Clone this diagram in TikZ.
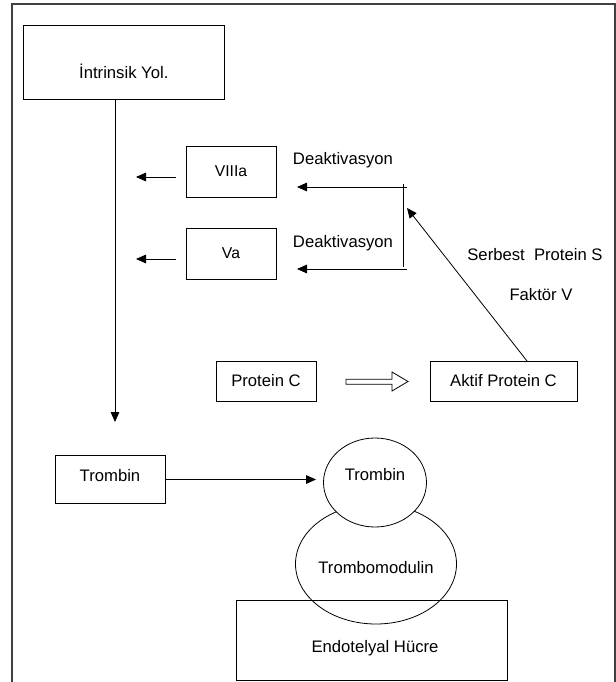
\documentclass[tikz,border=0pt]{standalone}
\usepackage{fontspec}
\setmainfont{Liberation Sans}
\usetikzlibrary{arrows.meta,shapes.geometric,calc}
\begin{document}
\begin{tikzpicture}[x=0.75pt,y=-0.75pt,
  box/.style={draw=black,line width=0.6pt,inner sep=0pt,align=center},
  big/.style={font=\fontsize{12.5}{15}\selectfont},
  mid/.style={font=\fontsize{11.8}{14}\selectfont},
  arr/.style={line width=0.6pt,-{Triangle[length=7.5pt,width=6.5pt]}},
  ln/.style={line width=0.6pt}]
\useasboundingbox (0,0) rectangle (616,682);
% outer frame (open at the bottom)
\draw[line width=1.1pt,draw=black!75] (12,700) -- (12,4) -- (615,4) -- (615,700);

% boxes
\node[box,minimum width=150.3pt,minimum height=56pt] (intr) at (123.8,62.5) {};
\node[big] (intrt) at (123.8,71) {İntrinsik Yol.};
\node[box,mid,minimum width=67.5pt,minimum height=38.25pt] (viii) at (231,171.5) {VIIIa};
\node[box,mid,minimum width=67.5pt,minimum height=38.25pt] (va) at (231,253.5) {Va};
\node[box,big,minimum width=75pt,minimum height=30pt] (pc) at (266,381) {Protein C};
\node[box,big,minimum width=110.25pt,minimum height=30pt] (apc) at (503.5,381) {Aktif Protein C};
\node[box,minimum width=82.5pt,minimum height=36pt] (trb) at (110,479.5) {};
\node[big] (trbt) at (110,476) {Trombin};
\node[box,minimum width=203.25pt,minimum height=60pt] (endo) at (371.5,640) {};
\node[big] (endot) at (375,648) {Endotelyal Hücre};
\node[box,ellipse,minimum width=120.75pt,minimum height=90pt] (tm) at (376,564) {};
\node[big] (tmt) at (376,567.5) {Trombomodulin};
\node[box,ellipse,fill=white,minimum width=77.25pt,minimum height=66.75pt] (circ) at (375,482.5) {};
\node[big] (circt) at (375,474.6) {Trombin};

% labels
\node[big] (deak1) at (343,160) {Deaktivasyon};
\node[big] (deak2) at (343,243) {Deaktivasyon};
\node[big] (serb) at (535,255) {Serbest\ \ Protein S};
\node[big] (fak) at (541,295) {Faktör V};

% coordinates for free ends
\coordinate (vtip) at (115,422);
\coordinate (t1) at (136,177);
\coordinate (s1) at (176,177);
\coordinate (t2) at (136,259);
\coordinate (s2) at (176,259);
\coordinate (j1) at (403,184);
\coordinate (j2) at (403,267);
\coordinate (h1) at (407,187);
\coordinate (h1t) at (297,187);
\coordinate (h2) at (407,269);
\coordinate (h2t) at (297,269);
\coordinate (dstart) at (527,361);
\coordinate (dtip) at (407,208);
\coordinate (ctip) at (316,479.5);

% connectors
\draw[arr] (vtip |- intr.south) -- (vtip);
\draw[arr] (s1) -- (t1);
\draw[arr] (s2) -- (t2);
\draw[ln] (j1) -- (j2);
\draw[arr] (h1) -- (h1t);
\draw[arr] (h2) -- (h2t);
\draw[arr] (dstart) -- (dtip);
\draw[arr] (trb.east) -- (trb.east -| ctip);

% hollow arrow Protein C -> Aktif Protein C
\draw[ln] (346,379.3) -- (392,379.3) -- (392,372) -- (408,381.5) -- (392,391)
  -- (392,384.3) -- (346,384.3) -- cycle;
\end{tikzpicture}
\end{document}
